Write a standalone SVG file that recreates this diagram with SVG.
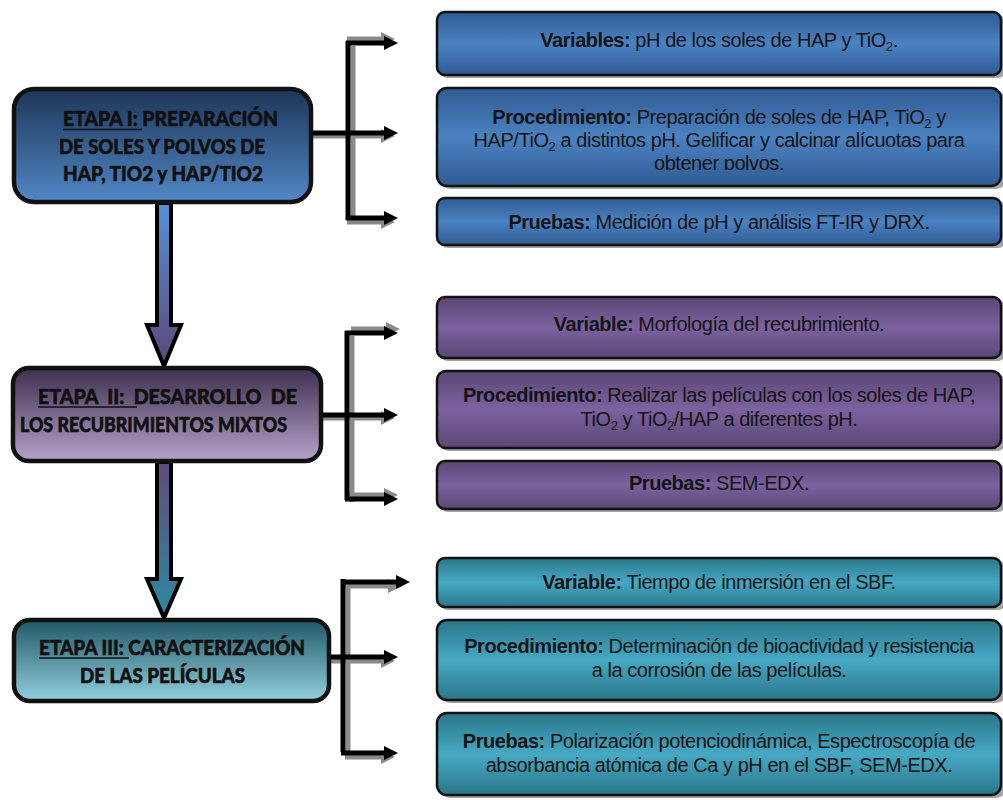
<svg xmlns="http://www.w3.org/2000/svg" width="1003" height="800" viewBox="0 0 1003 800">
  <defs>
    <linearGradient id="gStage1" x1="0" y1="0" x2="0" y2="1">
      <stop offset="0" stop-color="#1d3657"/>
      <stop offset="1" stop-color="#5287c6"/>
    </linearGradient>
    <linearGradient id="gStage2" x1="0" y1="0" x2="0" y2="1">
      <stop offset="0" stop-color="#3e3050"/>
      <stop offset="1" stop-color="#b4a3c9"/>
    </linearGradient>
    <linearGradient id="gStage3" x1="0" y1="0" x2="0" y2="1">
      <stop offset="0" stop-color="#215866"/>
      <stop offset="1" stop-color="#93cfde"/>
    </linearGradient>
    <linearGradient id="gArrow1" x1="0" y1="0" x2="0" y2="1">
      <stop offset="0" stop-color="#5591d8"/>
      <stop offset="1" stop-color="#5e4679"/>
    </linearGradient>
    <linearGradient id="gArrow2" x1="0" y1="0" x2="0" y2="1">
      <stop offset="0" stop-color="#604a7c"/>
      <stop offset="1" stop-color="#2e8aa0"/>
    </linearGradient>
    <linearGradient id="gBlueV" x1="0" y1="0" x2="0" y2="1">
      <stop offset="0" stop-color="#2f5b92"/>
      <stop offset="0.5" stop-color="#4b82c2"/>
      <stop offset="1" stop-color="#2f5b92"/>
    </linearGradient>
    <linearGradient id="gPurpleV" x1="0" y1="0" x2="0" y2="1">
      <stop offset="0" stop-color="#5a4674"/>
      <stop offset="0.5" stop-color="#7c62a0"/>
      <stop offset="1" stop-color="#5a4674"/>
    </linearGradient>
    <linearGradient id="gTealV" x1="0" y1="0" x2="0" y2="1">
      <stop offset="0" stop-color="#2a7689"/>
      <stop offset="0.5" stop-color="#46a9c4"/>
      <stop offset="1" stop-color="#2a7689"/>
    </linearGradient>
    <clipPath id="clipProc1">
      <rect x="437" y="88" width="566" height="82"/>
    </clipPath>
  </defs>
  <style>
    .stage { stroke: #111; stroke-width: 4.5; }
    .stageTxt { font-family: Lato, "Liberation Sans", sans-serif; font-weight: 900; font-size: 20.5px; fill: #111; stroke: #111; stroke-width: 0.6; white-space: pre; }
    .uline { stroke: #111; stroke-width: 1.6; }
    .box { stroke: #111; stroke-width: 2.5; }
    .shadow { fill: #8d8d8d; opacity: 0.8; }
    .txt { font-family: "Liberation Sans", Arial, sans-serif; font-size: 20px; fill: #141414; text-anchor: middle; letter-spacing: -0.45px; }
    .b { font-weight: bold; }
    .sub { font-size: 13px; }
    .wire { fill: none; stroke: #000; stroke-width: 5; }
    .wireS { fill: none; stroke: #8a8a8a; stroke-width: 5; }
    .head { fill: #000; }
    .headS { fill: #8a8a8a; }
    .vArrow { stroke: #000; stroke-width: 4; stroke-linejoin: miter; }
  </style>

  <!-- flow arrows between stages -->
  <g id="connectors">
    <polygon class="vArrow" fill="url(#gArrow1)" points="157,203 171,203 171,325 181,325 164,366 147,325 157,325"/>
    <polygon class="vArrow" fill="url(#gArrow2)" points="157,462 171,462 171,579 181,579 164,618 147,579 157,579"/>

    <!-- stage I bracket: shadow -->
    <path class="wireS" d="M353,46 V224"/>
    <g transform="translate(-3,-4)"><path class="wireS" d="M350,43 H385"/><polygon class="headS" points="384,36 398,43 384,50"/></g>
    <g transform="translate(-3,3)"><path class="wireS" d="M312,133 H385"/><polygon class="headS" points="384,126 398,133 384,140"/></g>
    <g transform="translate(-3,4)"><path class="wireS" d="M350,218 H385"/><polygon class="headS" points="384,211 398,218 384,225"/></g>
    <!-- stage I bracket -->
    <path class="wire" d="M348,41 V220"/>
    <path class="wire" d="M346,43 H385"/><polygon class="head" points="384,36 398,43 384,50"/>
    <path class="wire" d="M312,133 H385"/><polygon class="head" points="384,126 398,133 384,140"/>
    <path class="wire" d="M346,218 H385"/><polygon class="head" points="384,211 398,218 384,225"/>

    <!-- stage II bracket: shadow -->
    <path class="wireS" d="M352,336 V502"/>
    <g transform="translate(2,-4)"><path class="wireS" d="M349,333 H385"/><polygon class="headS" points="384,326 398,333 384,340"/></g>
    <g transform="translate(-3,3)"><path class="wireS" d="M322,415 H385"/><polygon class="headS" points="384,408 398,415 384,422"/></g>
    <g transform="translate(0,-4)"><path class="wireS" d="M349,499 H385"/><polygon class="headS" points="384,492 398,499 384,506"/></g>
    <!-- stage II bracket -->
    <path class="wire" d="M347,331 V500"/>
    <path class="wire" d="M345,333 H385"/><polygon class="head" points="384,326 398,333 384,340"/>
    <path class="wire" d="M322,415 H385"/><polygon class="head" points="384,408 398,415 384,422"/>
    <path class="wire" d="M345,499 H385"/><polygon class="head" points="384,492 398,499 384,506"/>

    <!-- stage III bracket: shadow -->
    <path class="wireS" d="M348,584 V756"/>
    <g transform="translate(-8,4)"><path class="wireS" d="M353,582 H397"/><polygon class="headS" points="396,575 410,582 396,589"/></g>
    <g transform="translate(-3,4)"><path class="wireS" d="M330,657 H385"/><polygon class="headS" points="384,650 398,657 384,664"/></g>
    <g transform="translate(-3,4)"><path class="wireS" d="M348,753 H385"/><polygon class="headS" points="384,746 398,753 384,760"/></g>
    <!-- stage III bracket -->
    <path class="wire" d="M343,579 V752"/>
    <path class="wire" d="M345,582 H397"/><polygon class="head" points="396,575 410,582 396,589"/>
    <path class="wire" d="M330,657 H385"/><polygon class="head" points="384,650 398,657 384,664"/>
    <path class="wire" d="M341,753 H385"/><polygon class="head" points="384,746 398,753 384,760"/>
  </g>

  <!-- stage boxes -->
  <g id="stage1">
    <rect class="stage" x="14" y="89" width="297" height="113" rx="20" fill="url(#gStage1)"/>
    <text class="stageTxt" x="63" y="126" textLength="215" lengthAdjust="spacingAndGlyphs">ETAPA I: PREPARACIÓN</text>
    <line class="uline" x1="63" y1="129.5" x2="142" y2="129.5"/>
    <text class="stageTxt" x="59" y="154" textLength="206" lengthAdjust="spacingAndGlyphs">DE SOLES Y POLVOS DE</text>
    <text class="stageTxt" x="63" y="181" textLength="200" lengthAdjust="spacingAndGlyphs">HAP, TIO2 y HAP/TIO2</text>
  </g>
  <g id="stage2">
    <rect class="stage" x="13" y="368" width="308" height="93" rx="16" fill="url(#gStage2)"/>
    <text class="stageTxt" x="38" y="404" textLength="259" lengthAdjust="spacingAndGlyphs">ETAPA  II:  DESARROLLO  DE</text>
    <line class="uline" x1="38" y1="407" x2="137" y2="407"/>
    <text class="stageTxt" x="20" y="432" textLength="267" lengthAdjust="spacingAndGlyphs">LOS RECUBRIMIENTOS MIXTOS</text>
  </g>
  <g id="stage3">
    <rect class="stage" x="14" y="620" width="315" height="81" rx="16" fill="url(#gStage3)"/>
    <text class="stageTxt" x="39" y="655" textLength="266" lengthAdjust="spacingAndGlyphs">ETAPA III: CARACTERIZACIÓN</text>
    <line class="uline" x1="39" y1="658" x2="129" y2="658"/>
    <text class="stageTxt" x="80" y="683" textLength="165" lengthAdjust="spacingAndGlyphs">DE LAS PELÍCULAS</text>
  </g>

  <!-- stage I detail boxes -->
  <g id="s1-variables">
    <rect class="shadow" x="440" y="15" width="566" height="63" rx="8"/>
    <rect class="box" x="437" y="12" width="564" height="63" rx="8" fill="url(#gBlueV)"/>
    <text class="txt" x="719" y="47"><tspan class="b">Variables:</tspan> pH de los soles de HAP y TiO<tspan class="sub" dy="4">2</tspan><tspan dy="-4">.</tspan></text>
  </g>
  <g id="s1-procedimiento">
    <rect class="shadow" x="440" y="91" width="566" height="98" rx="10"/>
    <rect class="box" x="437" y="88" width="564" height="98" rx="10" fill="url(#gBlueV)"/>
    <g clip-path="url(#clipProc1)">
      <text class="txt" x="719" y="124"><tspan class="b">Procedimiento:</tspan> Preparación de soles de HAP, TiO<tspan class="sub" dy="4">2</tspan><tspan dy="-4"> y</tspan></text>
      <text class="txt" x="719" y="147">HAP/TiO<tspan class="sub" dy="4">2</tspan><tspan dy="-4"> a distintos pH. Gelificar y calcinar alícuotas para</tspan></text>
      <text class="txt" x="719" y="170">obtener polvos.</text>
    </g>
  </g>
  <g id="s1-pruebas">
    <rect class="shadow" x="440" y="201" width="566" height="47" rx="8"/>
    <rect class="box" x="437" y="198" width="564" height="47" rx="8" fill="url(#gBlueV)"/>
    <text class="txt" x="719" y="229"><tspan class="b">Pruebas:</tspan> Medición de pH y análisis FT-IR y DRX.</text>
  </g>

  <!-- stage II detail boxes -->
  <g id="s2-variable">
    <rect class="shadow" x="440" y="300" width="566" height="61" rx="8"/>
    <rect class="box" x="437" y="297" width="564" height="61" rx="8" fill="url(#gPurpleV)"/>
    <text class="txt" x="719" y="331"><tspan class="b">Variable:</tspan> Morfología del recubrimiento.</text>
  </g>
  <g id="s2-procedimiento">
    <rect class="shadow" x="440" y="374" width="566" height="77" rx="9"/>
    <rect class="box" x="437" y="371" width="564" height="77" rx="9" fill="url(#gPurpleV)"/>
    <text class="txt" x="719" y="402"><tspan class="b">Procedimiento:</tspan> Realizar las películas con los soles de HAP,</text>
    <text class="txt" x="719" y="426">TiO<tspan class="sub" dy="4">2</tspan><tspan dy="-4"> y TiO</tspan><tspan class="sub" dy="4">2</tspan><tspan dy="-4">/HAP a diferentes pH.</tspan></text>
  </g>
  <g id="s2-pruebas">
    <rect class="shadow" x="440" y="464" width="566" height="48" rx="8"/>
    <rect class="box" x="437" y="461" width="564" height="48" rx="8" fill="url(#gPurpleV)"/>
    <text class="txt" x="719" y="490"><tspan class="b">Pruebas:</tspan> SEM-EDX.</text>
  </g>

  <!-- stage III detail boxes -->
  <g id="s3-variable">
    <rect class="shadow" x="440" y="561" width="566" height="49" rx="8"/>
    <rect class="box" x="437" y="558" width="564" height="49" rx="8" fill="url(#gTealV)"/>
    <text class="txt" x="719" y="589"><tspan class="b">Variable:</tspan> Tiempo de inmersión en el SBF.</text>
  </g>
  <g id="s3-procedimiento">
    <rect class="shadow" x="440" y="623" width="566" height="80" rx="10"/>
    <rect class="box" x="437" y="620" width="564" height="80" rx="10" fill="url(#gTealV)"/>
    <text class="txt" x="719" y="653"><tspan class="b">Procedimiento:</tspan> Determinación de bioactividad y resistencia</text>
    <text class="txt" x="719" y="677">a la corrosión de las películas.</text>
  </g>
  <g id="s3-pruebas">
    <rect class="shadow" x="440" y="716" width="566" height="82" rx="10"/>
    <rect class="box" x="437" y="713" width="564" height="82" rx="10" fill="url(#gTealV)"/>
    <text class="txt" x="719" y="748"><tspan class="b">Pruebas:</tspan> Polarización potenciodinámica, Espectroscopía de</text>
    <text class="txt" x="719" y="772">absorbancia atómica de Ca y pH en el SBF, SEM-EDX.</text>
  </g>
</svg>
